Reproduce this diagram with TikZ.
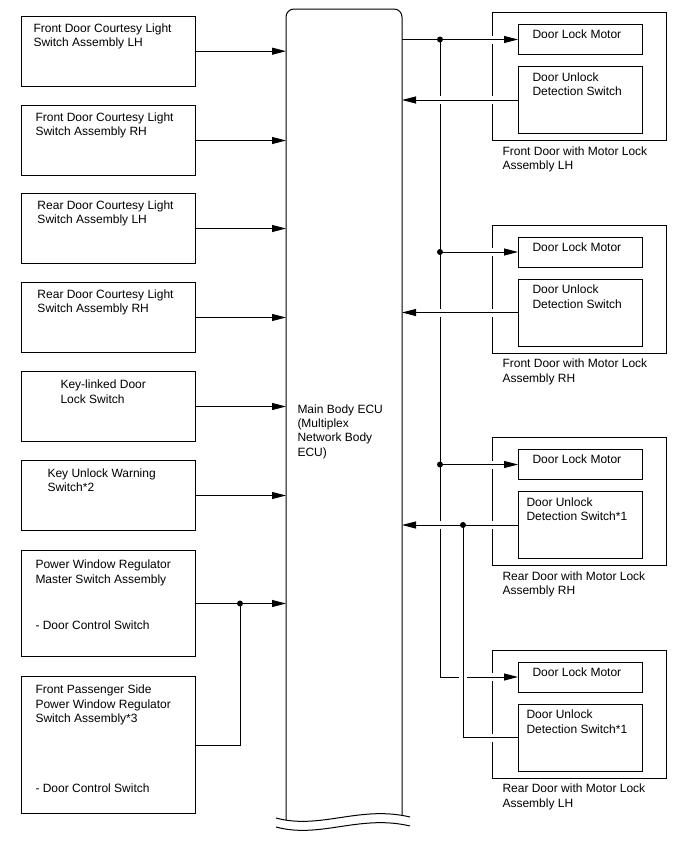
\documentclass[tikz,border=0pt]{standalone}
\usepackage{fontspec}
\setmainfont{Liberation Sans}
\usetikzlibrary{arrows.meta}

\begin{document}
\begin{tikzpicture}[x=1pt, y=-1pt, line width=1pt,
    box/.style={draw, anchor=north west, inner sep=0pt},
    txt/.style={anchor=north west, align=left, inner sep=0pt, yshift=1pt, font=\fontsize{12}{14.3}\selectfont},
    arr/.style={-{Triangle[length=14pt, width=7pt]}},
    gap/.style={preaction={draw=white, line width=8pt, -, shorten <=3pt, shorten >=3pt}}]
    \useasboundingbox (0,0) rectangle (688,852);

    % Switches on the left
    \foreach \n/\y/\h/\tx/\ty/\txt in {
        1/15.7/70/33/24/{Front Door Courtesy Light\\Switch Assembly LH},
        2/105/70/35/113.3/{Front Door Courtesy Light\\Switch Assembly RH},
        3/193/70/37/201.3/{Rear Door Courtesy Light\\Switch Assembly LH},
        4/282/70/37/290.3/{Rear Door Courtesy Light\\Switch Assembly RH},
        5/371/70/60/380.7/{Key-linked Door\\Lock Switch},
        6/460/70/47/469/{Key Unlock Warning\\Switch*2},
        7/550/106/35/560.7/{Power Window Regulator\\Master Switch Assembly\\[32pt]- Door Control Switch},
        8/676/137/35/685.7/{Front Passenger Side\\Power Window Regulator\\Switch Assembly*3\\[56pt]- Door Control Switch}} {
        \node[box, minimum width=174pt, minimum height=\h pt] (sw\n) at (21,\y) {};
        \node[txt] (swt\n) at (\tx,\ty) {\txt};
    }

    % Main body ECU
    \node[inner sep=0pt, outer sep=0pt, minimum width=116pt, minimum height=809pt] (ecu) at (344,413.5) {};
    \draw[rounded corners=8pt] ([yshift=-2pt]ecu.south west) -- (ecu.north west)
        -- (ecu.north east) -- ([yshift=2.6pt]ecu.south east);
    \draw (276,818) .. controls (320,830) and (360,805) .. (410,817);
    \draw (276,827) .. controls (320,839) and (360,814) .. (410,826);
    \node[txt] (ecut) at (297,405) {Main Body ECU\\(Multiplex\\Network Body\\ECU)};

    % Doors on the right
    \foreach \k/\t/\dx/\dt/\cap in {
        1/12/532/{Door Unlock\\Detection Switch}/{Front Door with Motor Lock\\Assembly LH},
        2/224.5/532/{Door Unlock\\Detection Switch}/{Front Door with Motor Lock\\Assembly RH},
        3/437/526/{Door Unlock\\Detection Switch*1}/{Rear Door with Motor Lock\\Assembly RH},
        4/649.5/526/{Door Unlock\\Detection Switch*1}/{Rear Door with Motor Lock\\Assembly LH}} {
        \node[box, minimum width=174pt, minimum height=128pt] (door\k) at (492,\t) {};
        \node[box, minimum width=124pt, minimum height=30pt] (motor\k) at (518,\t+12) {};
        \node[box, minimum width=124pt, minimum height=67pt] (detect\k) at (518,\t+54) {};
        \node[txt] (motort\k) at (532,\t+18.5) {Door Lock Motor};
        \node[txt] (detectt\k) at (\dx,\t+61) {\dt};
        \node[txt] (doort\k) at (502,\t+135) {\cap};
    }

    % Connections on the left
    \foreach \n in {1,...,7} {
        \draw[arr] (sw\n.east) -- (sw\n.east -| ecu.west);
    }
    \path (sw7.east) ++(44,0) coordinate (jpw);
    \draw (sw8.east) -| (jpw);
    \fill (jpw) circle (3pt);

    % Connections on the right
    \coordinate (bus) at (440,0);
    \coordinate (rbus) at (463,0);
    \draw[arr, gap] (motor1.west -| ecu.east) -- (motor1.west);
    \draw[arr, gap] (motor1.west -| bus) |- (motor4.west);
    \foreach \k in {2,3} {
        \draw[arr, gap] (motor\k.west -| bus) -- (motor\k.west);
    }
    \foreach \k in {1,2,3} {
        \draw[arr, gap] (detect\k.west) -- (detect\k.west -| ecu.east);
        \fill (motor\k.west -| bus) circle (3pt);
    }
    \draw[gap] (detect3.west -| rbus) |- (detect4.west);
    \fill (detect3.west -| rbus) circle (3pt);
\end{tikzpicture}
\end{document}
